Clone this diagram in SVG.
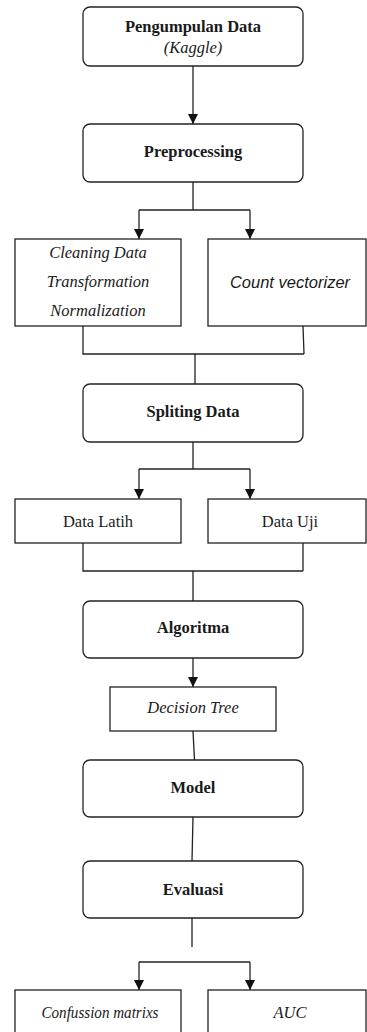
<svg xmlns="http://www.w3.org/2000/svg" width="367" height="1032" viewBox="0 0 367 1032">
<style>
.box{fill:#fff;stroke:#222;stroke-width:1.3}
.ln{fill:none;stroke:#222;stroke-width:1.3}
.t{font-family:"Liberation Serif","Times New Roman",serif;font-size:16.5px;fill:#1a1a1a;text-anchor:middle}
.b{font-weight:bold}
.i{font-style:italic}
.s{font-family:"Liberation Sans",Arial,sans-serif}
</style>
<defs>
<marker id="arr" viewBox="0 0 10 10" refX="10" refY="5" markerWidth="10" markerHeight="10" markerUnits="userSpaceOnUse" orient="auto">
<path d="M0,0 L10,5 L0,10 z" fill="#111"/>
</marker>
</defs>
<rect width="367" height="1032" fill="#fff"/>
<g id="connectors">
<path class="ln" d="M193,66 V124" marker-end="url(#arr)"/>
<path class="ln" d="M193,182 V210 M139,210 H250"/>
<path class="ln" d="M139,210 V239" marker-end="url(#arr)"/>
<path class="ln" d="M250,210 V239" marker-end="url(#arr)"/>
<path class="ln" d="M83,326 V354 H304 M303,326 L304,354 M195,354 V384"/>
<path class="ln" d="M193,442 V469 M139,469 H250"/>
<path class="ln" d="M139,469 V499" marker-end="url(#arr)"/>
<path class="ln" d="M250,469 V499" marker-end="url(#arr)"/>
<path class="ln" d="M83,543 V571 H303 M303,543 V571 M193,571 V601"/>
<path class="ln" d="M193,658 V687" marker-end="url(#arr)"/>
<path class="ln" d="M193,731 L194.5,760"/>
<path class="ln" d="M193,817 L192,861"/>
<path class="ln" d="M192,918 V947"/>
<path class="ln" d="M139,962 H250"/>
<path class="ln" d="M139,962 V990" marker-end="url(#arr)"/>
<path class="ln" d="M250,962 V990" marker-end="url(#arr)"/>
</g>
<g id="pengumpulan">
<rect class="box" x="83" y="7" width="220" height="59" rx="7"/>
<text class="t b" x="193" y="32">Pengumpulan Data</text>
<text class="t i" x="193" y="53" fill="#333">(Kaggle)</text>
</g>
<g id="preprocessing">
<rect class="box" x="83" y="124" width="220" height="58" rx="7"/>
<text class="t b" x="193" y="157">Preprocessing</text>
</g>
<g id="cleaning">
<rect class="box" x="15" y="239" width="166" height="87"/>
<text class="t i" x="98" y="258">Cleaning Data</text>
<text class="t i" x="98" y="287">Transformation</text>
<text class="t i" x="98" y="316">Normalization</text>
</g>
<g id="countvectorizer">
<rect class="box" x="208" y="239" width="158" height="87"/>
<text class="t s i" x="290" y="288">Count vectorizer</text>
</g>
<g id="spliting">
<rect class="box" x="83" y="384" width="220" height="58" rx="7"/>
<text class="t b" x="193" y="417">Spliting Data</text>
</g>
<g id="datalatih">
<rect class="box" x="15" y="499" width="166" height="44"/>
<text class="t" x="98" y="527">Data Latih</text>
</g>
<g id="datauji">
<rect class="box" x="208" y="499" width="158" height="44"/>
<text class="t" x="290" y="527">Data Uji</text>
</g>
<g id="algoritma">
<rect class="box" x="83" y="601" width="220" height="57" rx="7"/>
<text class="t b" x="193" y="633">Algoritma</text>
</g>
<g id="decisiontree">
<rect class="box" x="110" y="687" width="166" height="44"/>
<text class="t i" x="193" y="713">Decision Tree</text>
</g>
<g id="model">
<rect class="box" x="83" y="760" width="220" height="57" rx="7"/>
<text class="t b" x="193" y="793">Model</text>
</g>
<g id="evaluasi">
<rect class="box" x="83" y="861" width="220" height="57" rx="7"/>
<text class="t b" x="193" y="895">Evaluasi</text>
</g>
<g id="confusion">
<rect class="box" x="15" y="990" width="166" height="50"/>
<text class="t i" x="100" y="1018" textLength="117" lengthAdjust="spacingAndGlyphs">Confussion matrixs</text>
</g>
<g id="auc">
<rect class="box" x="208" y="990" width="158" height="50"/>
<text class="t i" x="290" y="1018">AUC</text>
</g>
</svg>
